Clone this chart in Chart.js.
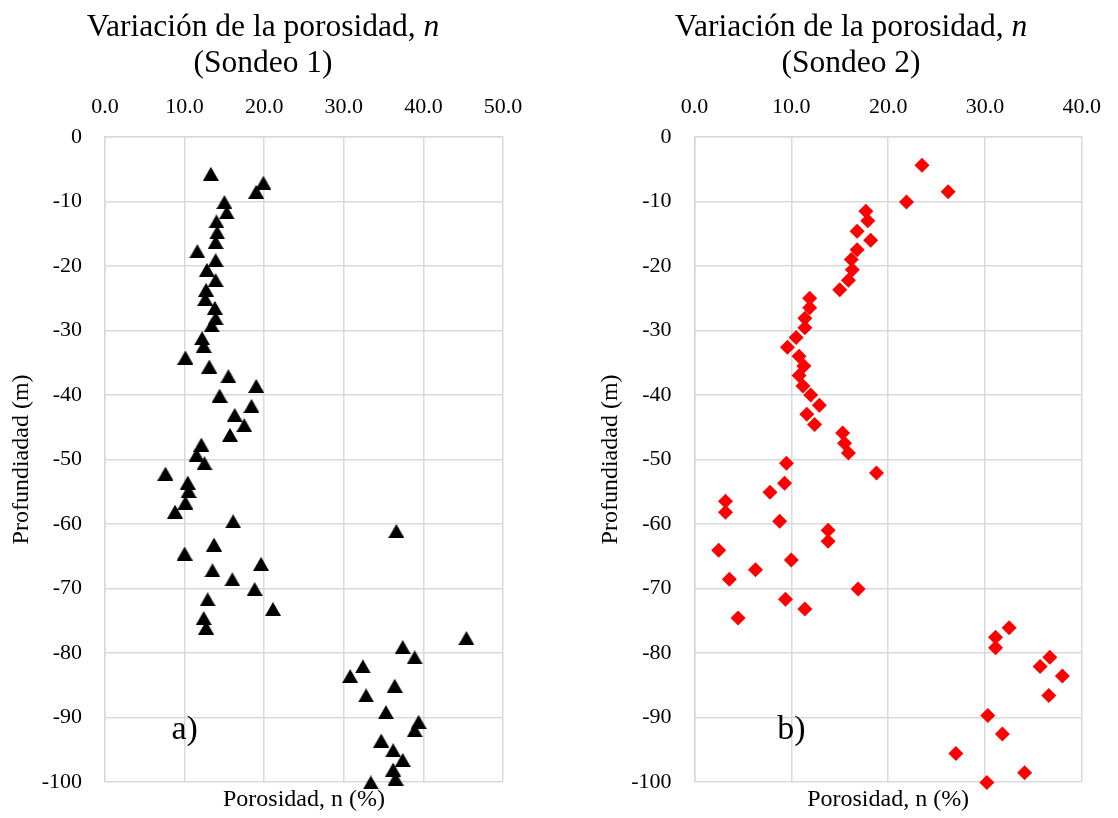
<!DOCTYPE html>
<html lang="es">
<head>
<meta charset="utf-8">
<title>Variación de la porosidad</title>
<script src="https://cdn.jsdelivr.net/npm/chart.js@4"></script>
<style>
  html, body { margin: 0; padding: 0; background: #fff; }
  #panel { position: relative; width: 1118px; height: 818px; }
  canvas { position: absolute; top: 0; }
</style>
</head>
<body>
<div id="panel">
  <canvas id="sondeo1" width="559" height="818" style="left:0"></canvas>
  <canvas id="sondeo2" width="559" height="818" style="left:559px"></canvas>
</div>
<script>
// Sondeo 1: profundidad (m) y porosidad n (%)
const profundidad1 = [
  -5.7, -7.1, -8.5, -10.1, -11.7, -13.1, -14.8, -16.3, -17.7, -19.1,
  -20.6, -22.2, -23.7, -25.1, -26.5, -28.1, -29.2, -31.2, -32.4, -34.2,
  -35.6, -37.1, -38.6, -40.1, -41.7, -43.1, -44.7, -46.2, -47.7, -49.3,
  -50.6, -52.2, -53.6, -54.9, -56.7, -58.1, -59.6, -61.1, -63.2, -64.6,
  -66.2, -67.2, -68.6, -70.1, -71.7, -73.2, -74.6, -76.1, -77.7, -79.1,
  -80.7, -82.1, -83.6, -85.1, -86.6, -89.2, -90.7, -92.0, -93.6, -95.1,
  -96.6, -98.1, -99.5, -100.1
];
const porosidad1 = [
  13.3, 19.9, 19.0, 15.0, 15.3, 14.0, 14.1, 13.9, 11.6, 13.9,
  12.8, 13.9, 12.7, 12.6, 13.8, 13.9, 13.4, 12.2, 12.4, 10.1,
  13.1, 15.5, 19.0, 14.4, 18.4, 16.3, 17.5, 15.7, 12.1, 11.5,
  12.5, 7.6, 10.4, 10.5, 10.1, 8.8, 16.1, 36.6, 13.7, 10.0,
  19.6, 13.5, 16.0, 18.8, 12.9, 21.1, 12.4, 12.7, 45.4, 37.4,
  38.9, 32.4, 30.8, 36.4, 32.8, 35.3, 39.4, 38.9, 34.7, 36.2,
  37.4, 36.2, 36.5, 33.4
];

// Sondeo 2: profundidad (m) y porosidad n (%)
const profundidad2 = [
  -4.4, -8.5, -10.1, -11.5, -13.0, -14.6, -16.0, -17.5, -19.0, -20.6,
  -22.2, -23.7, -25.0, -26.5, -28.1, -29.6, -31.1, -32.6, -34.0, -35.5,
  -37.0, -38.6, -40.0, -41.6, -43.0, -44.6, -45.9, -47.5, -49.0, -50.6,
  -52.1, -53.7, -55.1, -56.5, -58.2, -59.6, -61.0, -62.7, -64.1, -65.6,
  -67.1, -68.6, -70.1, -71.7, -73.2, -74.6, -76.1, -77.6, -79.2, -80.7,
  -82.1, -83.6, -86.6, -89.7, -92.6, -95.6, -98.6, -100.1
];
const porosidad2 = [
  23.5, 26.2, 21.9, 17.7, 17.9, 16.8, 18.2, 16.8, 16.2, 16.3,
  15.9, 15.0, 11.9, 11.9, 11.4, 11.4, 10.5, 9.6, 10.8, 11.3,
  10.8, 11.2, 12.0, 12.9, 11.6, 12.4, 15.3, 15.5, 15.9, 9.5,
  18.8, 9.3, 7.8, 3.2, 3.2, 8.8, 13.8, 13.8, 2.5, 10.0,
  6.3, 3.6, 16.9, 9.4, 11.4, 4.5, 32.5, 31.1, 31.1, 36.7,
  35.7, 38.0, 36.6, 30.3, 31.8, 27.0, 34.1, 30.2
];

// Rangos y pasos de los ejes
const ticksProfundidad = { min: -100, max: 0, step: 10 };
const ejeX1 = { min: 0, max: 50, step: 10 };
const ejeX2 = { min: 0, max: 40, step: 10 };

const SERIF = '"Liberation Serif", "Times New Roman", serif';
const GRID = '#d9d9d9';

// Triángulo negro relleno, centrado en su caja
function triangulo(w, h, color) {
  const c = document.createElement('canvas');
  c.width = w; c.height = h;
  const g = c.getContext('2d');
  g.fillStyle = color;
  g.beginPath();
  g.moveTo(w / 2, 0);
  g.lineTo(w, h);
  g.lineTo(0, h);
  g.closePath();
  g.fill();
  return c;
}

// Título de dos líneas con la variable en cursiva
const tituloMixto = {
  id: 'tituloMixto',
  afterDraw(chart, args, o) {
    const ctx = chart.ctx;
    ctx.save();
    ctx.fillStyle = '#000';
    ctx.textBaseline = 'alphabetic';
    const normal = o.size + 'px ' + SERIF;
    const cursiva = 'italic ' + o.size + 'px ' + SERIF;
    ctx.font = normal;
    const w1 = ctx.measureText(o.texto).width;
    ctx.font = cursiva;
    const w2 = ctx.measureText(o.variable).width;
    const x0 = o.cx - (w1 + w2) / 2;
    ctx.textAlign = 'left';
    ctx.font = normal;
    ctx.fillText(o.texto, x0, o.y1);
    ctx.font = cursiva;
    ctx.fillText(o.variable, x0 + w1, o.y1);
    ctx.font = normal;
    ctx.textAlign = 'center';
    ctx.fillText(o.subtitulo, o.cx, o.y2);
    ctx.restore();
  }
};

// Letra del panel, situada en coordenadas de datos
const letraPanel = {
  id: 'letraPanel',
  afterDatasetsDraw(chart, args, o) {
    const ctx = chart.ctx;
    const px = chart.scales.x.getPixelForValue(o.x);
    const py = chart.scales.y.getPixelForValue(o.y);
    ctx.save();
    ctx.fillStyle = '#000';
    ctx.font = o.size + 'px ' + SERIF;
    ctx.textAlign = 'center';
    ctx.textBaseline = 'middle';
    ctx.fillText(o.texto, px, py);
    ctx.restore();
  }
};

function puntos(xs, ys) {
  return xs.map((v, i) => ({ x: v, y: ys[i] }));
}

function opciones(cfg) {
  const fTick = { family: SERIF, size: 22 };
  const fTitulo = { family: SERIF, size: 24 };
  return {
    responsive: false,
    animation: false,
    events: [],
    layout: { padding: { left: cfg.padLeft, right: cfg.padRight, top: 0, bottom: 0 } },
    plugins: {
      legend: { display: false },
      tooltip: { enabled: false },
      tituloMixto: {
        texto: 'Variación de la porosidad, ', variable: 'n', subtitulo: cfg.subtitulo,
        size: 31.5, cx: cfg.tituloX, y1: 36, y2: 72
      },
      letraPanel: { texto: cfg.letra, x: 10, y: -92, size: 34 }
    },
    scales: {
      x: {
        type: 'linear', position: 'top',
        min: cfg.eje.min, max: cfg.eje.max,
        ticks: {
          stepSize: cfg.eje.step, color: '#000', font: fTick, padding: 17,
          callback: v => Number(v).toFixed(1)
        },
        grid: { color: GRID, lineWidth: 1.5, drawTicks: false },
        border: { color: GRID, width: 1.5 },
        afterFit(s) { s.height = 137; }
      },
      xTitulo: {
        type: 'linear', axis: 'x', position: 'bottom',
        min: cfg.eje.min, max: cfg.eje.max,
        ticks: { display: false },
        grid: { display: false, drawTicks: false },
        border: { display: false },
        title: { display: true, text: 'Porosidad, n (%)', color: '#000', font: fTitulo, padding: 0 },
        afterFit(s) { s.height = 32; }
      },
      y: {
        type: 'linear', position: 'left',
        min: ticksProfundidad.min, max: ticksProfundidad.max,
        ticks: { stepSize: ticksProfundidad.step, color: '#000', font: fTick, padding: 23 },
        grid: { color: GRID, lineWidth: 1.5, drawTicks: false },
        border: { color: GRID, width: 1.5 },
        title: { display: true, text: 'Profundiadad (m)', color: '#000', font: fTitulo, padding: { top: 7, bottom: 0 } },
        afterFit(s) { s.width = cfg.anchoY; }
      }
    }
  };
}

new Chart(document.getElementById('sondeo1'), {
  type: 'scatter',
  data: {
    datasets: [{
      label: 'Sondeo 1',
      data: puntos(porosidad1, profundidad1),
      pointStyle: triangulo(16, 14, '#000'),
      pointRadius: 8,
      clip: false
    }]
  },
  options: opciones({
    padLeft: 0, padRight: 56, anchoY: 105, eje: ejeX1,
    subtitulo: '(Sondeo 1)', tituloX: 263, letra: 'a)'
  }),
  plugins: [tituloMixto, letraPanel]
});

new Chart(document.getElementById('sondeo2'), {
  type: 'scatter',
  data: {
    datasets: [{
      label: 'Sondeo 2',
      data: puntos(porosidad2, profundidad2),
      pointStyle: 'rectRot',
      pointRadius: 7.5,
      pointBackgroundColor: '#ff0000',
      pointBorderColor: '#ff0000',
      pointBorderWidth: 0,
      clip: false
    }]
  },
  options: opciones({
    padLeft: 30, padRight: 26, anchoY: 105.5, eje: ejeX2,
    subtitulo: '(Sondeo 2)', tituloX: 292, letra: 'b)'
  }),
  plugins: [tituloMixto, letraPanel]
});
</script>
</body>
</html>
